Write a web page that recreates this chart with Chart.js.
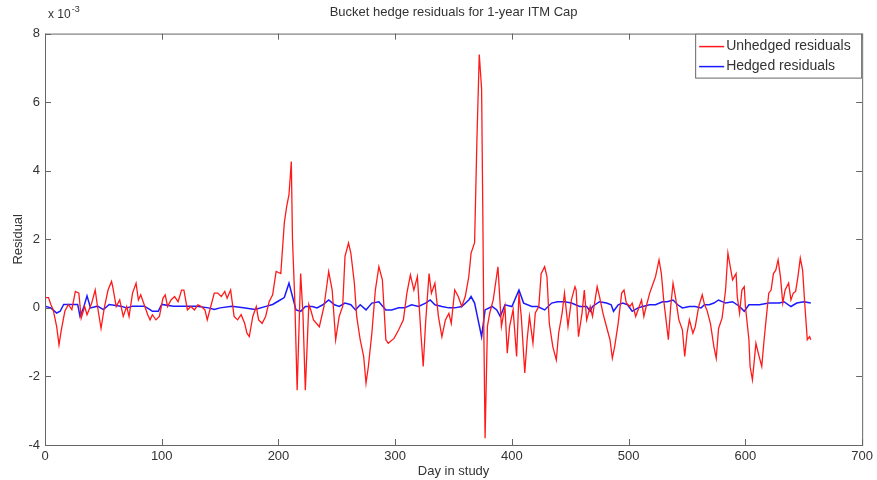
<!DOCTYPE html>
<html>
<head>
<meta charset="utf-8">
<script src="https://cdn.jsdelivr.net/npm/chart.js@4.4.1/dist/chart.umd.min.js"></script>
<style>
  html, body { margin: 0; padding: 0; background: #fff; }
  #wrap { width: 877px; height: 480px; }
</style>
</head>
<body>
<div id="wrap"><canvas id="chart"></canvas></div>
<script>
// values are in units of 1e-3 (axis says "x 10^-3")
const redDays = [0, 3, 5, 7, 10, 12, 14, 17, 20, 23, 26, 29, 31, 34, 36, 40, 43, 45, 48, 51, 54, 57, 58, 61, 64, 67, 70, 72, 75, 78, 80, 82, 85, 88, 90, 92, 95, 98,
  101, 103, 105, 108, 111, 114, 117, 119, 122, 125, 128, 131, 134, 137, 139, 142, 145, 148, 151, 154, 156, 159, 162, 165, 168, 171, 173, 175, 178, 181, 183, 186, 189, 192, 195, 198,
  202, 205, 207, 209, 211, 212, 214, 216, 219, 221, 223, 226, 228, 230, 235, 239, 243, 246, 249, 252, 255, 257, 260, 262, 265, 267, 270, 273, 275, 277, 280, 283, 286, 289, 292, 294, 299,
  303, 307, 310, 313, 316, 319, 322, 324, 326, 329, 331, 334, 337, 340, 343, 346, 348, 351, 354, 357, 360, 363, 365, 368, 370, 372, 374, 375, 376, 377, 379, 381, 384, 388, 390, 391, 394, 396, 398,
  401, 404, 406, 408, 411, 413, 415, 418, 420, 423, 425, 428, 430, 432, 435, 438, 440, 443, 445, 448, 451, 454, 455, 457, 460, 462, 464, 467, 469, 473, 475, 478, 481, 484, 486, 488, 491, 494, 496, 498,
  501, 503, 506, 508, 511, 513, 515, 518, 521, 523, 526, 528, 530, 532, 534, 536, 538, 540, 543, 546, 548, 550, 552, 555, 557, 560, 563, 565, 567, 570, 573, 575, 577, 580, 583, 585, 587, 589, 592, 593, 595, 597, 599,
  600, 603, 604, 606, 609, 611, 614, 616, 618, 620, 622, 624, 626, 628, 630, 632, 634, 637, 639, 641, 643, 645, 647, 649, 651, 653, 655, 656];
const redValues = [0.3, 0.3, 0.1, -0.05, -0.55, -1.08, -0.64, -0.1, 0.1, -0.05, 0.48, 0.43, -0.3, 0.04, -0.2, 0.14, 0.52, 0.04, -0.6, 0.04, 0.52, 0.77, 0.62, 0.04, 0.23, -0.25, 0.04, -0.25, 0.43, 0.72, 0.23, 0.38, 0.09, -0.2, -0.35, -0.2, -0.35, -0.25,
  0.28, 0.38, 0.04, 0.23, 0.33, 0.18, 0.52, 0.52, -0.06, 0.04, -0.06, 0.09, 0.04, -0.06, -0.35, 0.04, 0.43, 0.43, 0.33, 0.48, 0.28, 0.52, -0.25, -0.35, -0.2, -0.45, -0.74, -0.84, -0.25, 0.04, -0.35, -0.45, -0.25, 0.18, 0.38, 1.06,
  1.0, 2.48, 2.95, 3.3, 4.27, 2.0, 0.2, -2.4, 1.0, -0.2, -2.4, 0.1, -0.1, -0.35, -0.55, 0.04, 1.06, 0.52, -0.93, -0.25, 0.04, 1.5, 1.89, 1.6, 0.72, -0.25, -0.93, -1.42, -2.2, -1.71, -0.74, 0.52, 1.2, 0.82, -0.93, -1.03, -0.89,
  -0.64, -0.35, 0.43, 0.96, 0.52, 0.91, -0.74, -1.71, -0.45, 1.0, 0.43, 0.72, -0.25, -0.84, -0.35, -0.16, -0.45, 0.52, 0.33, 0.04, 0.33, 0.9, 1.6, 1.9, 4.9, 7.39, 6.4, 2.96, -0.93, -3.8, -0.54, -0.15, 0.24, 1.2, 0.04, -0.54, 0.04, -1.32, -0.54,
  -0.05, -1.42, 0.43, -0.25, -1.9, -0.93, -0.25, -1.03, -0.15, 0.04, 1.0, 1.2, 0.91, -0.45, -1.13, -1.52, -0.74, -0.15, 0.43, -0.54, 0.24, 0.62, 0.52, -0.84, -0.16, 0.52, -0.35, 0.04, -0.25, 0.62, 0.33, -0.16, -0.55, -0.93, -1.47, -1.13, -0.45, 0.43, 0.52, 0.14,
  0.04, 0.14, -0.25, -0.06, 0.23, -0.25, 0.04, 0.43, 0.72, 0.91, 1.4, 1.0, 0.23, -0.35, -0.93, 0.04, 0.72, 0.33, -0.35, -0.64, -1.42, -0.74, -0.35, -0.74, -0.55, 0.04, 0.38, 0.09, -0.06, -0.45, -1.13, -1.47, -0.6, -0.3, 0.52, 1.6, 1.2, 0.82, 1.0, 0.33, -0.16, 0.52, 0.62,
  0.04, -0.93, -1.71, -2.1, -1.03, -1.32, -1.71, -0.93, -0.25, 0.43, 0.52, 1.0, 1.1, 1.4, 0.91, 0.14, 0.52, 0.72, 0.23, 0.43, 0.48, 0.91, 1.45, 1.1, 0.04, -0.93, -0.84, -0.93];

const blueDays = [0, 5, 10, 13, 16, 20, 28, 30, 33, 36, 39, 45, 50, 55, 65, 70, 75, 85, 90, 92, 97, 100, 110, 120, 130, 140, 145, 150, 160, 170, 180, 190, 195, 200, 205, 209, 212, 215, 219, 223,
  229, 233, 238, 243, 248, 252, 257, 262, 266, 270, 275, 280, 286, 292, 297, 303, 308, 314, 320, 326, 330, 334, 340, 346, 351, 357, 363, 365, 368, 371, 374, 377, 383, 387, 390, 394, 400, 406, 410,
  417, 422, 428, 434, 439, 445, 451, 458, 464, 467, 469, 475, 481, 485, 487, 491, 495, 499, 503, 508, 512, 518, 523, 529, 533, 538, 542, 546, 552, 557, 562, 565, 569, 573, 577, 583, 589, 595, 599,
  603, 612, 620, 629, 633, 639, 644, 650, 656];
const blueValues = [0.05, 0.0, -0.15, -0.1, 0.1, 0.1, 0.1, -0.25, 0.0, 0.35, 0.0, 0.05, -0.05, 0.1, 0.05, 0.0, 0.05, 0.05, -0.05, -0.1, -0.1, 0.1, 0.05, 0.05, 0.05, 0.0, -0.05, 0.0, 0.05, 0.0, -0.05, 0.05, 0.1, 0.2, 0.3, 0.72, 0.33, -0.06, -0.1, 0.04,
  0.04, 0.0, 0.09, 0.23, 0.09, 0.04, 0.14, 0.09, -0.06, 0.09, -0.06, 0.14, 0.18, -0.06, -0.06, 0.0, 0.0, 0.09, 0.04, 0.14, 0.23, 0.09, 0.04, 0.0, 0.0, 0.04, 0.23, 0.33, 0.14, -0.35, -0.84, -0.06, 0.04, -0.06, -0.25, 0.09, 0.04, 0.52, 0.14,
  0.04, 0.04, -0.06, 0.14, 0.18, 0.18, 0.14, 0.04, 0.04, -0.1, 0.04, 0.18, 0.14, 0.09, -0.1, 0.09, 0.14, 0.09, -0.1, 0.0, 0.04, 0.09, 0.09, 0.18, 0.18, 0.23, 0.09, 0.0, 0.04, 0.04, 0.0, 0.09, 0.09, 0.14, 0.23, 0.14, 0.18, 0.04, -0.1,
  0.09, 0.09, 0.14, 0.14, 0.18, 0.04, 0.14, 0.18, 0.14];

const xTicks = [0, 100, 200, 300, 400, 500, 600, 700];
const yTicks = [-4, -2, 0, 2, 4, 6, 8];

const toPoints = (xs, ys) => xs.map((x, i) => ({ x: x, y: ys[i] }));

const textColor = "#333";
const axisColor = "#666";
const fontFamily = "'Liberation Sans', Arial, sans-serif";

// matlab-like box, inward ticks, legend and exponent label
const matlabAxes = {
  id: "matlabAxes",
  afterDraw(chart) {
    const ctx = chart.ctx;
    const a = chart.chartArea;
    const xs = chart.scales.x;
    const ys = chart.scales.y;
    ctx.save();
    ctx.strokeStyle = axisColor;
    ctx.lineWidth = 1;
    ctx.strokeRect(a.left + 0.5, a.top + 0.5, a.right - a.left, a.bottom - a.top);
    ctx.beginPath();
    xTicks.forEach(v => {
      const px = Math.round(xs.getPixelForValue(v)) + 0.5;
      ctx.moveTo(px, a.bottom); ctx.lineTo(px, a.bottom - 6);
      ctx.moveTo(px, a.top); ctx.lineTo(px, a.top + 6);
    });
    yTicks.forEach(v => {
      const py = Math.round(ys.getPixelForValue(v)) + 0.5;
      ctx.moveTo(a.left, py); ctx.lineTo(a.left + 6, py);
      ctx.moveTo(a.right, py); ctx.lineTo(a.right - 6, py);
    });
    ctx.stroke();

    // exponent label
    ctx.fillStyle = textColor;
    ctx.textBaseline = "alphabetic";
    ctx.textAlign = "left";
    ctx.font = "12px " + fontFamily;
    ctx.fillText("x 10", a.left + 3, a.top - 16);
    const w = ctx.measureText("x 10").width;
    ctx.font = "9px " + fontFamily;
    ctx.fillText("-3", a.left + 4 + w, a.top - 22);

    // legend
    const lw = 167, lh = 45;
    const lx = a.right - lw, ly = a.top;
    ctx.fillStyle = "#fff";
    ctx.fillRect(lx, ly, lw, lh);
    ctx.strokeStyle = axisColor;
    ctx.strokeRect(lx + 0.5, ly + 0.5, lw - 1, lh - 1);
    ctx.font = "14px " + fontFamily;
    ctx.textBaseline = "middle";
    chart.data.datasets.forEach((ds, i) => {
      const y = ly + 13 + i * 20;
      ctx.strokeStyle = ds.borderColor;
      ctx.lineWidth = 1.5;
      ctx.beginPath();
      ctx.moveTo(lx + 4, y); ctx.lineTo(lx + 29, y);
      ctx.stroke();
      ctx.fillStyle = textColor;
      ctx.fillText(ds.label, lx + 31, y);
    });
    ctx.restore();
  }
};

new Chart(document.getElementById("chart"), {
  type: "line",
  data: {
    datasets: [
      {
        label: "Unhedged residuals",
        data: toPoints(redDays, redValues),
        borderColor: "#ff1a1a",
        borderWidth: 1.3,
        pointRadius: 0,
        tension: 0,
      },
      {
        label: "Hedged residuals",
        data: toPoints(blueDays, blueValues),
        borderColor: "#1a1aff",
        borderWidth: 1.5,
        pointRadius: 0,
        tension: 0,
      },
    ],
  },
  options: {
    responsive: true,
    maintainAspectRatio: false,
    animation: false,
    layout: { padding: { left: 0, right: 12, top: 0, bottom: 0 } },
    plugins: {
      legend: { display: false },
      tooltip: { enabled: false },
      title: {
        display: true,
        text: "Bucket hedge residuals for 1-year ITM Cap",
        color: textColor,
        font: { family: fontFamily, size: 13, weight: "normal" },
        fullSize: false,
        padding: { top: 5, bottom: 13 },
      },
    },
    scales: {
      x: {
        type: "linear",
        min: 0,
        max: 700,
        afterBuildTicks: s => { s.ticks = xTicks.map(v => ({ value: v })); },
        afterFit: s => { s.height = 35; },
        grid: { display: false, drawTicks: false },
        border: { display: false },
        ticks: { color: textColor, padding: 4, font: { family: fontFamily, size: 13 } },
        title: {
          display: true,
          text: "Day in study",
          color: textColor,
          font: { family: fontFamily, size: 13 },
          padding: { top: 0, bottom: 1 },
        },
      },
      y: {
        type: "linear",
        min: -4,
        max: 8,
        afterBuildTicks: s => { s.ticks = yTicks.map(v => ({ value: v })); },
        afterFit: s => { s.width = 45; },
        grid: { display: false, drawTicks: false },
        border: { display: false },
        ticks: { color: textColor, padding: 5, font: { family: fontFamily, size: 13 } },
        title: {
          display: true,
          text: "Residual",
          color: textColor,
          font: { family: fontFamily, size: 13 },
          padding: { top: 11, bottom: 0 },
        },
      },
    },
  },
  plugins: [matlabAxes],
});
</script>
</body>
</html>
